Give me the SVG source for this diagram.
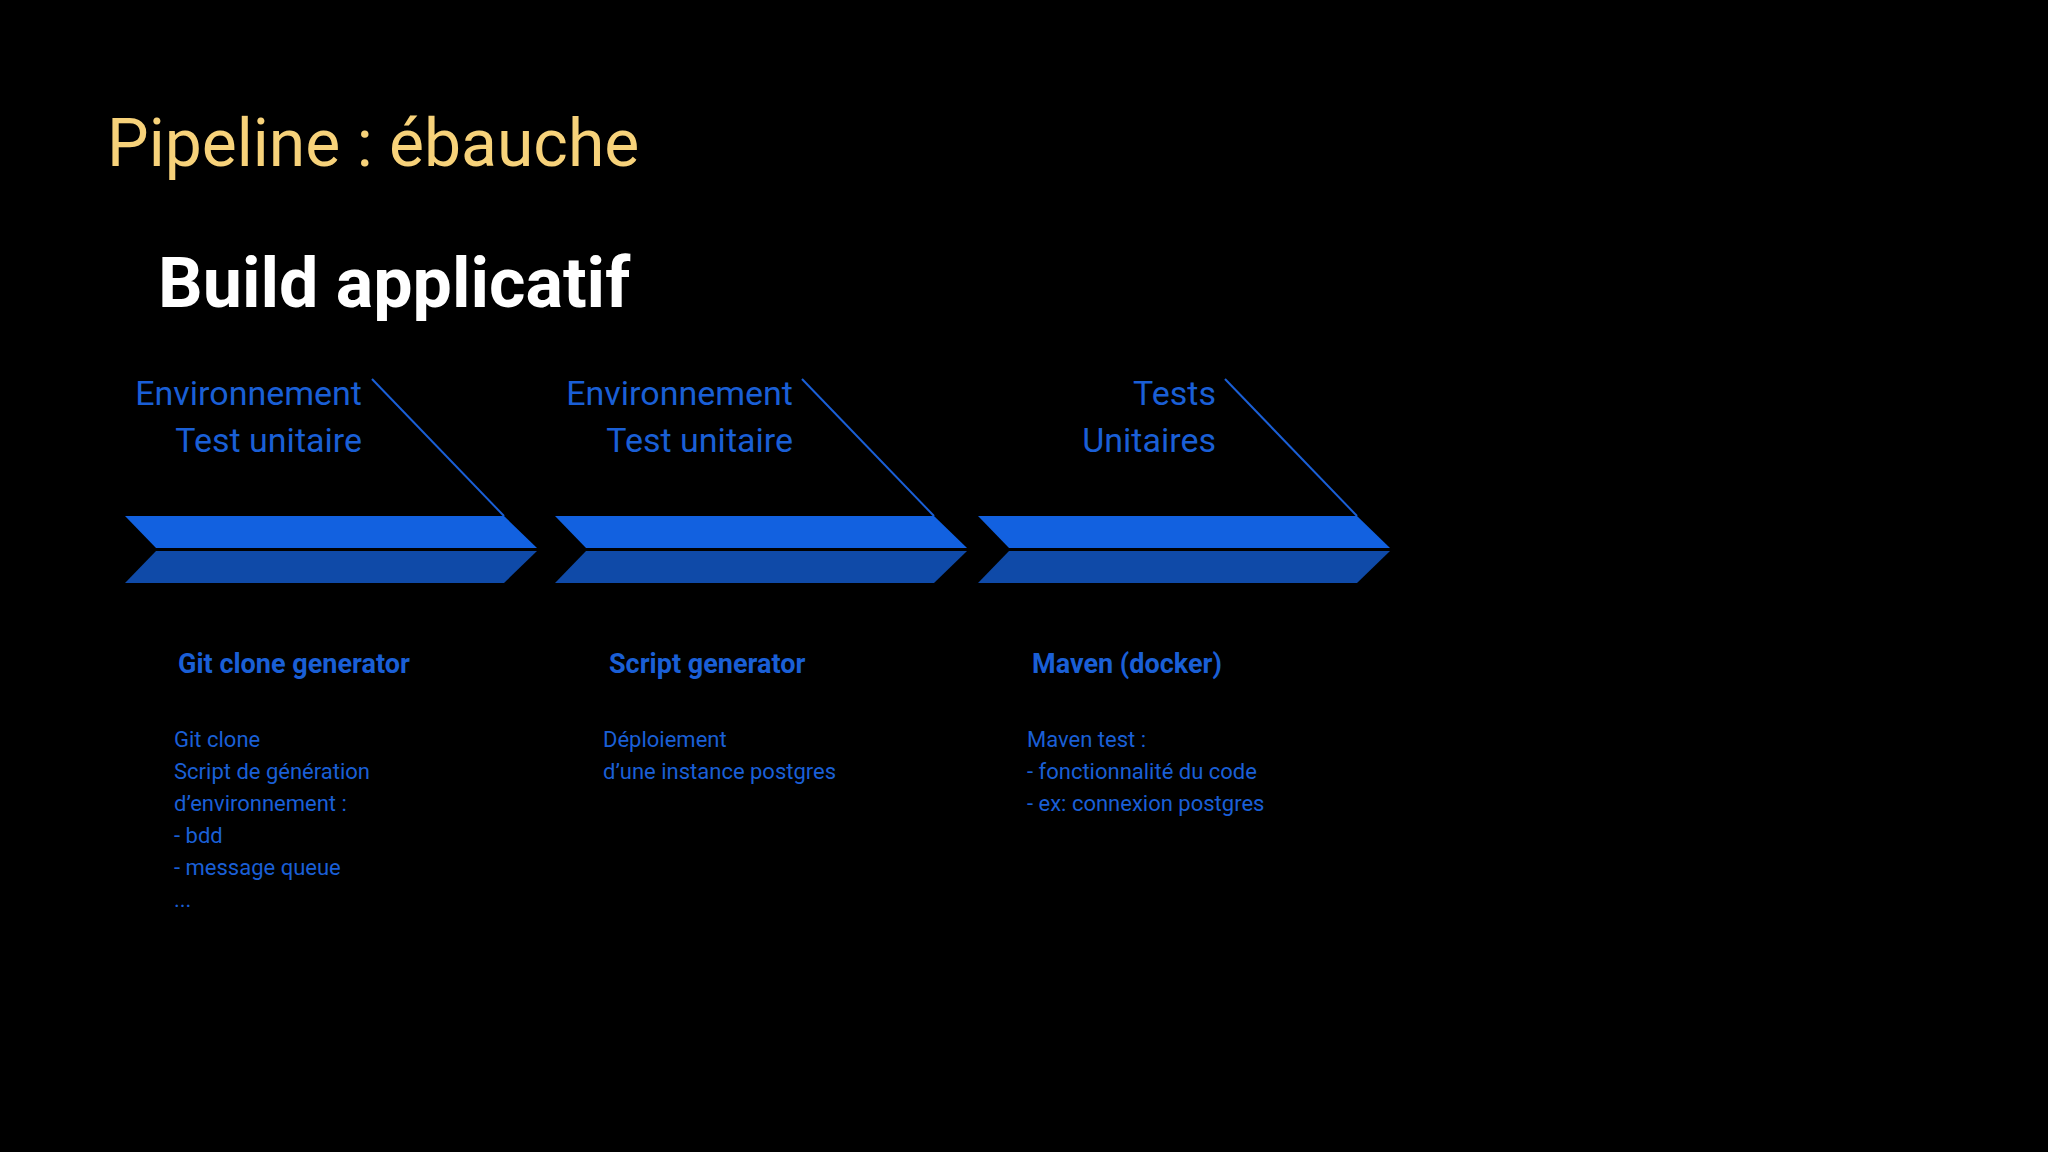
<svg xmlns="http://www.w3.org/2000/svg" width="2048" height="1152" viewBox="0 0 2048 1152">
<style>
.hd{font-family:Roboto,"Liberation Sans",sans-serif;font-size:34px;fill:#1a5fd6;text-anchor:end}
.bt{font-family:Roboto,"Liberation Sans",sans-serif;font-size:27px;font-weight:bold;fill:#1a5fd6}
.bd{font-family:Roboto,"Liberation Sans",sans-serif;font-size:22px;fill:#1a5fd6}
.top{fill:#1261e0}.bot{fill:#0f4aa8}.ln{stroke:#1a5fd6;stroke-width:2;fill:none}
</style>
<defs>
<g id="chev">
<polygon class="top" points="0,516 379,516 412,548 31,548"/>
<polygon class="bot" points="31,551 412,551 379,583 0,583"/>
</g>
</defs>
<rect width="2048" height="1152" fill="#000"/>
<text x="107" y="166" font-family="Roboto,'Liberation Sans',sans-serif" font-size="66" fill="#f7d27a">Pipeline : ébauche</text>
<text x="158" y="307" font-family="Roboto,'Liberation Sans',sans-serif" font-size="70" font-weight="bold" fill="#fff">Build applicatif</text>
<g id="connectors">
<line class="ln" x1="372" y1="379" x2="504" y2="516"/>
<line class="ln" x1="802" y1="379" x2="934" y2="516"/>
<line class="ln" x1="1225" y1="379" x2="1357" y2="516"/>
</g>
<g id="node1">
<use href="#chev" x="125"/>
<text class="hd" x="362" y="405">Environnement</text>
<text class="hd" x="362" y="452">Test unitaire</text>
<text class="bt" x="178" y="673">Git clone generator</text>
<text class="bd" x="174" y="747">Git clone</text>
<text class="bd" x="174" y="779">Script de génération</text>
<text class="bd" x="174" y="811">d’environnement :</text>
<text class="bd" x="174" y="843">- bdd</text>
<text class="bd" x="174" y="875">- message queue</text>
<text class="bd" x="174" y="907">...</text>
</g>
<g id="node2">
<use href="#chev" x="555"/>
<text class="hd" x="793" y="405">Environnement</text>
<text class="hd" x="793" y="452">Test unitaire</text>
<text class="bt" x="609" y="673">Script generator</text>
<text class="bd" x="603" y="747">Déploiement</text>
<text class="bd" x="603" y="779">d’une instance postgres</text>
</g>
<g id="node3">
<use href="#chev" x="978"/>
<text class="hd" x="1216" y="405">Tests</text>
<text class="hd" x="1216" y="452">Unitaires</text>
<text class="bt" x="1032" y="673">Maven (docker)</text>
<text class="bd" x="1027" y="747">Maven test :</text>
<text class="bd" x="1027" y="779">- fonctionnalité du code</text>
<text class="bd" x="1027" y="811">- ex: connexion postgres</text>
</g>
</svg>
